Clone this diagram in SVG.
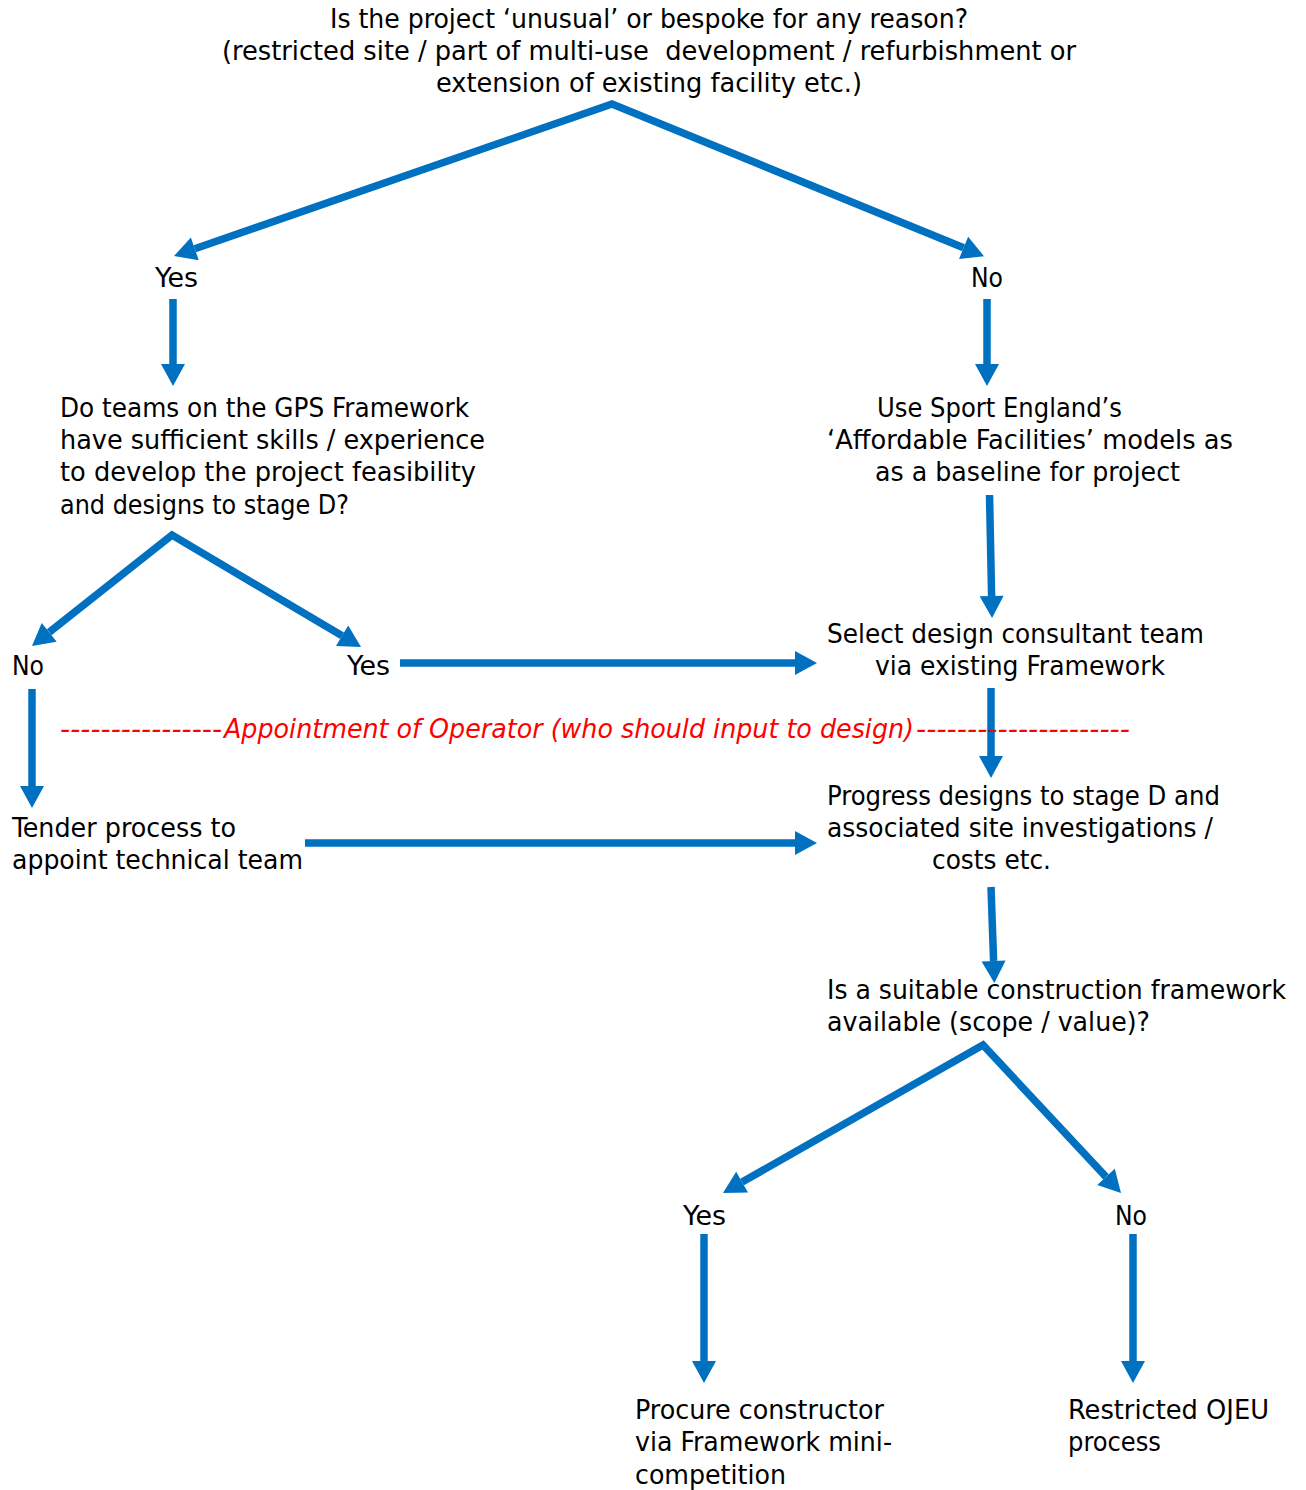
<svg xmlns="http://www.w3.org/2000/svg" width="1306" height="1490" viewBox="0 0 1306 1490">
<style>
.t{font-family:"DejaVu Sans Condensed","DejaVu Sans",sans-serif;font-stretch:condensed;font-size:26px;fill:#000}
.r{font-family:"DejaVu Sans Condensed","DejaVu Sans",sans-serif;font-stretch:condensed;font-size:26px;fill:#FF0000;font-style:italic}
.c{fill:none;stroke:#0070C0;stroke-width:7.5;stroke-linejoin:miter;stroke-miterlimit:10}
</style>
<defs>
<marker id="ah" markerUnits="userSpaceOnUse" markerWidth="22" markerHeight="24" viewBox="0 0 22 24" refX="0" refY="12" orient="auto-start-reverse" overflow="visible">
<path d="M0,0 L22,12 L0,24 z" fill="#0070C0"/>
</marker>
</defs>
<rect width="1306" height="1490" fill="#fff"/>
<g id="connectors">
<path class="c" d="M194.8,248.8 L612,104 L963.6,247.8" marker-start="url(#ah)" marker-end="url(#ah)"/>
<path class="c" d="M173,299 L173,364" marker-end="url(#ah)"/>
<path class="c" d="M987,299 L987,364" marker-end="url(#ah)"/>
<path class="c" d="M49.2,632.3 L172,535 L342.1,635.8" marker-start="url(#ah)" marker-end="url(#ah)"/>
<path class="c" d="M989.5,495 L991.6,596" marker-end="url(#ah)"/>
<path class="c" d="M400,663 L795,663" marker-end="url(#ah)"/>
<path class="c" d="M991,688 L991,756" marker-end="url(#ah)"/>
<path class="c" d="M32,689 L32,786" marker-end="url(#ah)"/>
<path class="c" d="M305,843 L795,843" marker-end="url(#ah)"/>
<path class="c" d="M991,887 L993.6,961" marker-end="url(#ah)"/>
<path class="c" d="M742.1,1182.1 L983,1045 L1106,1176.9" marker-start="url(#ah)" marker-end="url(#ah)"/>
<path class="c" d="M704,1234 L704,1361" marker-end="url(#ah)"/>
<path class="c" d="M1133,1234 L1133,1361" marker-end="url(#ah)"/>
</g>
<g id="q1">
<text class="t" x="330" y="28" textLength="638" lengthAdjust="spacingAndGlyphs">Is the project ‘unusual’ or bespoke for any reason?</text>
<text class="t" x="222" y="60" textLength="854" lengthAdjust="spacingAndGlyphs" xml:space="preserve">(restricted site / part of multi-use  development / refurbishment or</text>
<text class="t" x="436" y="92" textLength="426" lengthAdjust="spacingAndGlyphs">extension of existing facility etc.)</text>
</g>
<g id="yes1"><text class="t" x="155" y="287" textLength="43" lengthAdjust="spacingAndGlyphs">Yes</text></g>
<g id="no1"><text class="t" x="971" y="287" textLength="32" lengthAdjust="spacingAndGlyphs">No</text></g>
<g id="q2">
<text class="t" x="60" y="417" textLength="409" lengthAdjust="spacingAndGlyphs">Do teams on the GPS Framework</text>
<text class="t" x="60" y="449" textLength="425" lengthAdjust="spacingAndGlyphs">have sufficient skills / experience</text>
<text class="t" x="60" y="481" textLength="416" lengthAdjust="spacingAndGlyphs">to develop the project feasibility</text>
<text class="t" x="60" y="514" textLength="289" lengthAdjust="spacingAndGlyphs">and designs to stage D?</text>
</g>
<g id="sport">
<text class="t" x="877" y="417" textLength="245" lengthAdjust="spacingAndGlyphs">Use Sport England’s</text>
<text class="t" x="827" y="449" textLength="406" lengthAdjust="spacingAndGlyphs">‘Affordable Facilities’ models as</text>
<text class="t" x="875" y="481" textLength="305" lengthAdjust="spacingAndGlyphs">as a baseline for project</text>
</g>
<g id="no2"><text class="t" x="12" y="675" textLength="32" lengthAdjust="spacingAndGlyphs">No</text></g>
<g id="yes2"><text class="t" x="347" y="675" textLength="43" lengthAdjust="spacingAndGlyphs">Yes</text></g>
<g id="select">
<text class="t" x="827" y="643" textLength="377" lengthAdjust="spacingAndGlyphs">Select design consultant team</text>
<text class="t" x="875" y="675" textLength="290" lengthAdjust="spacingAndGlyphs">via existing Framework</text>
</g>
<g id="operator">
<text class="r" x="60" y="738" textLength="162" lengthAdjust="spacingAndGlyphs">----------------</text>
<text class="r" x="224" y="738" textLength="690" lengthAdjust="spacingAndGlyphs">Appointment of Operator (who should input to design)</text>
<text class="r" x="916" y="738" textLength="214" lengthAdjust="spacingAndGlyphs">---------------------</text>
</g>
<g id="tender">
<text class="t" x="12" y="837" textLength="224" lengthAdjust="spacingAndGlyphs">Tender process to</text>
<text class="t" x="12" y="869" textLength="291" lengthAdjust="spacingAndGlyphs">appoint technical team</text>
</g>
<g id="progress">
<text class="t" x="827" y="805" textLength="393" lengthAdjust="spacingAndGlyphs">Progress designs to stage D and</text>
<text class="t" x="827" y="837" textLength="386" lengthAdjust="spacingAndGlyphs">associated site investigations /</text>
<text class="t" x="932" y="869" textLength="119" lengthAdjust="spacingAndGlyphs">costs etc.</text>
</g>
<g id="q3">
<text class="t" x="827" y="999" textLength="459" lengthAdjust="spacingAndGlyphs">Is a suitable construction framework</text>
<text class="t" x="827" y="1031" textLength="323" lengthAdjust="spacingAndGlyphs">available (scope / value)?</text>
</g>
<g id="yes3"><text class="t" x="683" y="1225" textLength="43" lengthAdjust="spacingAndGlyphs">Yes</text></g>
<g id="no3"><text class="t" x="1115" y="1225" textLength="32" lengthAdjust="spacingAndGlyphs">No</text></g>
<g id="procure">
<text class="t" x="635" y="1419" textLength="249" lengthAdjust="spacingAndGlyphs">Procure constructor</text>
<text class="t" x="635" y="1451" textLength="257" lengthAdjust="spacingAndGlyphs">via Framework mini-</text>
<text class="t" x="635" y="1484" textLength="151" lengthAdjust="spacingAndGlyphs">competition</text>
</g>
<g id="ojeu">
<text class="t" x="1068" y="1419" textLength="201" lengthAdjust="spacingAndGlyphs">Restricted OJEU</text>
<text class="t" x="1068" y="1451" textLength="93" lengthAdjust="spacingAndGlyphs">process</text>
</g>
</svg>
